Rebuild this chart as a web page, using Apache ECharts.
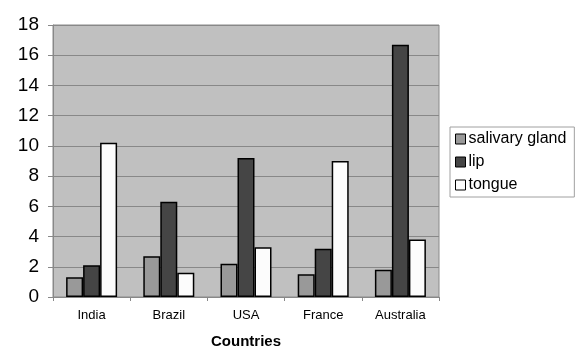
<!DOCTYPE html>
<html><head><meta charset="utf-8">
<script src="https://cdn.jsdelivr.net/npm/echarts@6/dist/echarts.min.js"></script>
<style>html,body{margin:0;padding:0;background:#fff}#c{width:584px;height:362px}</style>
</head><body><div id="c"></div>
<script>
const categories = ['India','Brazil','USA','France','Australia'];
const salivaryGland = [1.3, 2.7, 2.2, 1.5, 1.8];
const lip = [2.1, 6.3, 9.2, 3.2, 16.7];
const tongue = [10.2, 1.6, 3.3, 9.0, 3.8];
const seriesNames = ['salivary gland','lip','tongue'];
const colors = ['#999999','#454545','#fcfcfc'];
const chart = echarts.init(document.getElementById('c'), null, {renderer:'canvas'});
const font = 'Liberation Sans, Arial, sans-serif';
const mk = (name, data, color) => ({
  name, type:'bar', data, barWidth:17, barGap:'0%', barCategoryGap:'34%',
  itemStyle:{color, borderColor:'#000', borderWidth:1.5}
});
chart.setOption({
  animation:false,
  grid:{left:53, right:145, top:25, bottom:65, show:true, backgroundColor:'#c0c0c0', borderColor:'#8a8a8a', borderWidth:1},
  legend:{
    orient:'vertical', left:450, top:127, width:124, height:70,
    padding:[4,8,4,5], itemGap:7, itemWidth:10, itemHeight:10,
    borderColor:'#a0a0a0', borderWidth:1, backgroundColor:'#fff',
    data: seriesNames.map((n,i)=>({name:n, icon:'rect', itemStyle:{color:colors[i], borderColor:'#000', borderWidth:1}})),
    textStyle:{fontFamily:font, fontSize:16, color:'#000', padding:[0,0,0,-2]}
  },
  xAxis:{
    type:'category', data:categories,
    name:'Countries', nameLocation:'middle', nameGap:37,
    nameTextStyle:{fontFamily:font, fontSize:15, fontWeight:'bold', color:'#000'},
    axisLine:{lineStyle:{color:'#888', width:1}},
    axisTick:{show:true, length:4, lineStyle:{color:'#888'}},
    axisLabel:{fontFamily:font, fontSize:13, color:'#000', margin:12}
  },
  yAxis:{
    type:'value', min:0, max:18, interval:2,
    axisLine:{show:true, lineStyle:{color:'#888'}},
    axisTick:{show:true, length:5, lineStyle:{color:'#888'}},
    axisLabel:{fontFamily:font, fontSize:19, color:'#000', margin:14},
    splitLine:{lineStyle:{color:'#888', width:1}}
  },
  series:[mk(seriesNames[0], salivaryGland, colors[0]), mk(seriesNames[1], lip, colors[1]), mk(seriesNames[2], tongue, colors[2])]
});
</script></body></html>
